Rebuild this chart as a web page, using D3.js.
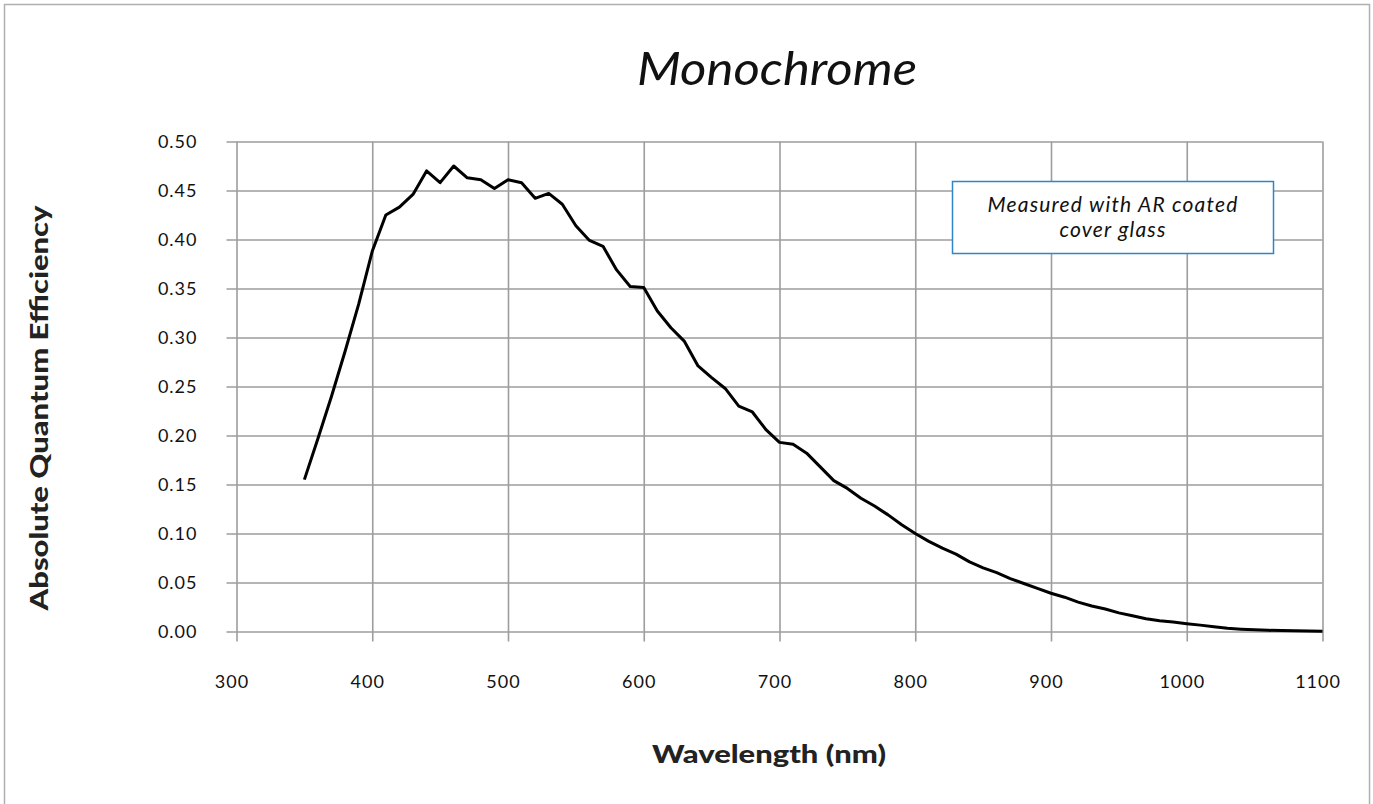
<!doctype html>
<html lang="en">
<head>
  <meta charset="utf-8">
  <title>Monochrome</title>
  <style>
  body { margin: 0; background: #fff; }
  svg { display: block; }
  .grid line { stroke: #9d9d9d; stroke-width: 1.6px; }
  .tick text { font-family: Lato, "DejaVu Sans", sans-serif; font-size: 18px; fill: #111; letter-spacing: 1px; }
  </style>
</head>
<body>
<div id="chart"></div>
<script src="https://cdnjs.cloudflare.com/ajax/libs/d3/7.8.5/d3.min.js"></script>
<script>

// ------------- data
var wavelength = [350,360,370,380,390,400,410,420,430,440,450,460,470,480,490,500,510,520,530,540,
                  550,560,570,580,590,600,610,620,630,640,650,660,670,680,690,700,710,720,730,740,
                  750,760,770,780,790,800,810,820,830,840,850,860,870,880,890,900,910,920,930,940,
                  950,960,970,980,990,1000,1010,1020,1030,1040,1050,1060,1070,1080,1090,1100];
var qe = [0.155,0.197,0.240,0.286,0.334,0.388,0.425,0.433,0.446,0.470,0.458,0.475,0.463,0.461,0.452,0.461,0.458,0.442,0.447,0.436,
          0.414,0.399,0.393,0.369,0.352,0.351,0.327,0.310,0.296,0.271,0.259,0.248,0.230,0.224,0.206,0.193,0.191,0.182,0.168,0.154,
          0.146,0.136,0.128,0.119,0.109,0.100,0.092,0.085,0.079,0.071,0.065,0.060,0.054,0.049,0.044,0.039,0.035,0.030,0.026,0.023,
          0.019,0.016,0.013,0.011,0.0096,0.008,0.0065,0.0048,0.0034,0.0024,0.0017,0.0012,0.0010,0.0007,0.0005,0.0003];
var xTicks = [300,400,500,600,700,800,900,1000,1100];
var yTicks = [0,0.05,0.10,0.15,0.20,0.25,0.30,0.35,0.40,0.45,0.50];
var note = ["Measured with AR coated", "cover glass"];

//------------- svg
var width = 1373, height = 804;
var margin = {top: 141.5, right: 50.5, bottom: 172.5, left: 236.5};
var w = width - margin.left - margin.right,
    h = height - margin.top - margin.bottom;

var svg = d3.select("#chart").append("svg")
    .attr("width", width)
    .attr("height", height);

// outer frame
svg.append("rect")
    .attr("x", 4.5).attr("y", 4.5)
    .attr("width", 1365).attr("height", 804)
    .attr("fill", "none").attr("stroke", "#b0b0b0").attr("stroke-width", 1.5);

var g = svg.append("g").attr("transform", "translate(" + margin.left + "," + margin.top + ")");

var x = d3.scaleLinear().domain([300, 1100]).range([0, w]);
var y = d3.scaleLinear().domain([0, 0.5]).range([h, 0]);

// horizontal grid + y labels
g.append("g").attr("class", "grid")
    .call(d3.axisLeft(y).tickValues(yTicks).tickSize(-w).tickSizeOuter(0).tickPadding(39)
          .tickFormat(d3.format(".2f")))
    .call(function(a){ a.select(".domain").remove(); })
    .selectAll(".tick line").attr("x1", -10);

// vertical grid + x labels
var xg = g.append("g").attr("class", "grid")
    .attr("transform", "translate(0," + h + ")")
    .call(d3.axisBottom(x).tickValues(xTicks).tickSize(-h).tickSizeOuter(0).tickPadding(44)
          .tickFormat(d3.format("d")))
    .call(function(a){ a.select(".domain").remove(); });
xg.selectAll(".tick line").attr("y1", 10);
xg.selectAll(".tick text").attr("x", -5);

g.selectAll(".tick text").attr("fill", "#111");

// curve
var pts = wavelength.map(function(d, i){ return [d, qe[i]]; });
g.append("path")
    .datum(pts)
    .attr("fill", "none")
    .attr("stroke", "#000")
    .attr("stroke-width", 3)
    .attr("stroke-linejoin", "round")
    .attr("d", d3.line().x(function(d){ return x(d[0]); }).y(function(d){ return y(d[1]); }));

// note box
var box = svg.append("g");
box.append("rect")
    .attr("x", 952.5).attr("y", 181.5).attr("width", 321).attr("height", 72)
    .attr("fill", "#fff").attr("stroke", "#2e86c8").attr("stroke-width", 1.5);
box.selectAll("text").data(note).enter().append("text")
    .attr("x", 1113).attr("y", function(d, i){ return 212 + i * 25; })
    .attr("text-anchor", "middle")
    .attr("font-family", "Lato, sans-serif")
    .attr("font-style", "italic")
    .attr("font-size", "21px")
    .attr("letter-spacing", "1.2px")
    .attr("fill", "#111")
    .text(function(d){ return d; });

// title
svg.append("text")
    .attr("x", 777).attr("y", 85)
    .attr("text-anchor", "middle")
    .attr("font-family", "Lato, sans-serif")
    .attr("font-style", "italic")
    .attr("font-size", "46px")
    .attr("fill", "#111")
    .attr("textLength", 280)
    .attr("lengthAdjust", "spacingAndGlyphs")
    .text("Monochrome");

// axis titles
svg.append("text")
    .attr("x", 769).attr("y", 763)
    .attr("text-anchor", "middle")
    .attr("font-family", "Lato, sans-serif")
    .attr("font-weight", 900)
    .attr("font-size", "25px")
    .attr("fill", "#222")
    .attr("textLength", 234)
    .attr("lengthAdjust", "spacingAndGlyphs")
    .text("Wavelength (nm)");

svg.append("text")
    .attr("transform", "translate(48,408) rotate(-90)")
    .attr("text-anchor", "middle")
    .attr("font-family", "Lato, sans-serif")
    .attr("font-weight", 900)
    .attr("font-size", "25px")
    .attr("fill", "#222")
    .attr("textLength", 405)
    .attr("lengthAdjust", "spacingAndGlyphs")
    .text("Absolute Quantum Efficiency");

</script>
</body>
</html>
